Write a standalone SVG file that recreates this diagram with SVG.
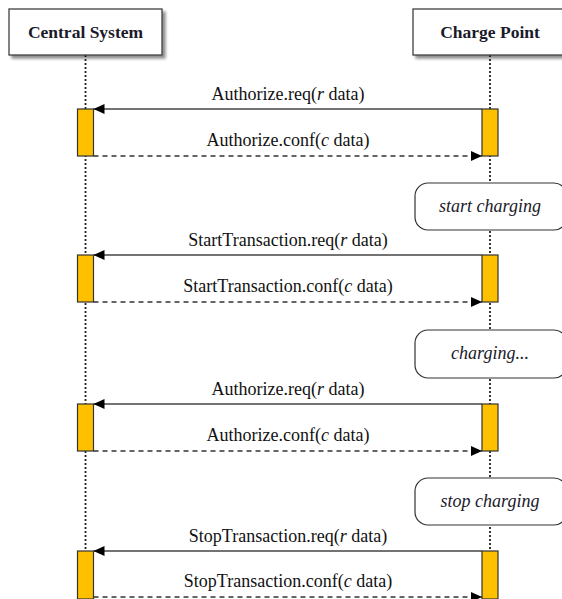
<svg xmlns="http://www.w3.org/2000/svg" width="562" height="599" viewBox="0 0 562 599">
<style>
.hdr{fill:#fff;stroke:#404040;stroke-width:1.3}
.hdrt{font-family:"Liberation Serif",serif;font-weight:bold;font-size:17.5px;fill:#1a1a2a;text-anchor:middle}
.life{stroke:#222;stroke-width:1.8;stroke-dasharray:2 2;fill:none}
.act{fill:#FFC000;stroke:#333;stroke-width:1.2}
.req{stroke:#444;stroke-width:1.3;fill:none}
.conf{stroke:#333;stroke-width:1.5;stroke-dasharray:5 4;fill:none}
.lbl{font-family:"Liberation Serif",serif;font-size:18px;fill:#111;text-anchor:middle}
.it{font-style:italic}
.note{fill:#fff;stroke:#333;stroke-width:1.2}
.nt{font-family:"Liberation Serif",serif;font-style:italic;font-size:18px;fill:#1a1a2a;text-anchor:middle}
</style>
<defs>
<marker id="ah" markerUnits="userSpaceOnUse" markerWidth="12" markerHeight="10" refX="11" refY="5" orient="auto">
<path d="M0,0 L11,5 L0,10 z" fill="#000"/>
</marker>
<filter id="sh" x="-10%" y="-10%" width="130%" height="140%">
<feDropShadow dx="3" dy="3" stdDeviation="1.5" flood-color="#000" flood-opacity="0.45"/>
</filter>
</defs>
<g id="lifelines">
<line class="life" x1="85.5" y1="55" x2="85.5" y2="599"/>
<line class="life" x1="490" y1="55" x2="490" y2="599"/>
</g>
<g id="central-system">
<rect class="hdr" x="9" y="9" width="153" height="46" filter="url(#sh)"/>
<text class="hdrt" x="85.5" y="38">Central System</text>
</g>
<g id="charge-point">
<rect class="hdr" x="413" y="9" width="153" height="46" filter="url(#sh)"/>
<text class="hdrt" x="490" y="38">Charge Point</text>
</g>
<g id="notes">
<g id="note-start"><rect class="note" x="415" y="183" width="152" height="47" rx="13"/><text class="nt" x="490" y="212">start charging</text></g>
<g id="note-charging"><rect class="note" x="415" y="330" width="152" height="48" rx="13"/><text class="nt" x="490" y="359">charging...</text></g>
<g id="note-stop"><rect class="note" x="415" y="478" width="152" height="47" rx="13"/><text class="nt" x="490" y="507">stop charging</text></g>
</g>
<g id="activations">
<rect class="act" x="77.5" y="109" width="16" height="47"/>
<rect class="act" x="482" y="109" width="16" height="47"/>
<rect class="act" x="77.5" y="255" width="16" height="47"/>
<rect class="act" x="482" y="255" width="16" height="47"/>
<rect class="act" x="77.5" y="404" width="16" height="47"/>
<rect class="act" x="482" y="404" width="16" height="47"/>
<rect class="act" x="77.5" y="551" width="16" height="48"/>
<rect class="act" x="482" y="551" width="16" height="48"/>
</g>
<g id="connectors">
<line class="req" x1="482" y1="109" x2="93.5" y2="109" marker-end="url(#ah)"/>
<line class="conf" x1="93.5" y1="156" x2="482" y2="156" marker-end="url(#ah)"/>
<line class="req" x1="482" y1="255" x2="93.5" y2="255" marker-end="url(#ah)"/>
<line class="conf" x1="93.5" y1="302" x2="482" y2="302" marker-end="url(#ah)"/>
<line class="req" x1="482" y1="404" x2="93.5" y2="404" marker-end="url(#ah)"/>
<line class="conf" x1="93.5" y1="451" x2="482" y2="451" marker-end="url(#ah)"/>
<line class="req" x1="482" y1="551" x2="93.5" y2="551" marker-end="url(#ah)"/>
<line class="conf" x1="93.5" y1="597" x2="482" y2="597" marker-end="url(#ah)"/>
</g>
<g id="labels">
<text class="lbl" x="288" y="100">Authorize.req(<tspan class="it">r</tspan> data)</text>
<text class="lbl" x="288" y="146">Authorize.conf(<tspan class="it">c</tspan> data)</text>
<text class="lbl" x="288" y="246">StartTransaction.req(<tspan class="it">r</tspan> data)</text>
<text class="lbl" x="288" y="292">StartTransaction.conf(<tspan class="it">c</tspan> data)</text>
<text class="lbl" x="288" y="395">Authorize.req(<tspan class="it">r</tspan> data)</text>
<text class="lbl" x="288" y="441">Authorize.conf(<tspan class="it">c</tspan> data)</text>
<text class="lbl" x="288" y="542">StopTransaction.req(<tspan class="it">r</tspan> data)</text>
<text class="lbl" x="288" y="587">StopTransaction.conf(<tspan class="it">c</tspan> data)</text>
</g>
</svg>
